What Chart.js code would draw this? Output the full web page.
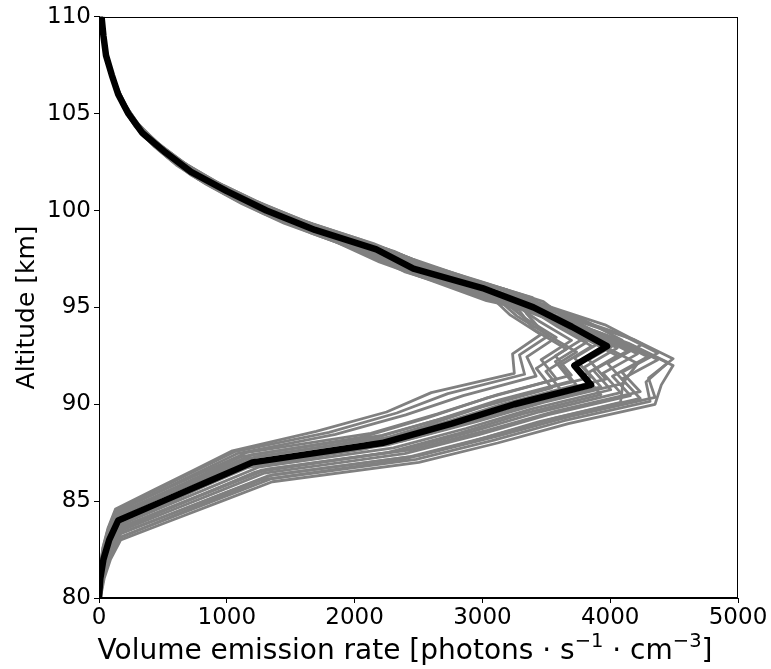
<!DOCTYPE html>
<html>
<head>
<meta charset="utf-8">
<script src="https://cdn.jsdelivr.net/npm/chart.js@4/dist/chart.umd.min.js"></script>
<style>
  html, body { margin: 0; padding: 0; background: #fff; }
</style>
</head>
<body>
<canvas id="chartVER" width="771" height="669"></canvas>
<script>
// Altitude grid (km)
const altitudes = [80,81,82,83,84,85,86,87,88,89,90,91,92,93,94,95,96,97,98,99,100,101,102,103,104,105,106,107,108,109,110];

// Mean (black) profile, photons s-1 cm-3
const meanProfile = [0,10,35,80,150,500,850,1200,2215,2760,3250,3850,3720,3975,3700,3400,3000,2460,2170,1690,1310,1000,720,520,340,230,150,100,55,35,20];

// Ensemble members (grey)
const m01 = [0,9,30,70,130,435,740,1044,1700,2250,2600,3250,3236,3458,3219,3059,2515,2149,1769,1374,1057,782,564,387,258,171,113,69,40,24,12];
const m02 = [0,9,32,72,135,450,765,1080,1850,2400,2850,3420,3348,3578,3330,3140,2895,2447,2052,1595,1229,918,662,461,305,204,133,84,48,29,16];
const m03 = [0,9,33,74,140,465,790,1116,2060,2567,3023,3581,3460,3697,3441,3221,2724,2278,1945,1513,1168,879,634,447,295,198,130,83,47,29,15];
const m04 = [0,10,34,77,144,480,816,1152,2126,2650,3120,3696,3571,3816,3552,3292,2979,2474,2136,1662,1285,972,700,499,328,220,144,94,53,33,19];
const m05 = [0,10,34,78,146,485,825,1164,2149,2677,3153,3735,3608,3856,3589,3349,2910,2386,2105,1639,1271,970,698,504,330,223,146,97,53,34,19];
const m06 = [0,10,36,82,153,510,867,1224,2259,2815,3315,3927,3794,4055,3774,3449,3192,2640,2309,1825,1415,1083,785,567,376,253,166,110,63,39,23];
const m07 = [0,10,36,83,156,520,884,1248,2304,2870,3380,4004,3869,4134,3848,3506,2945,2465,2131,1720,1335,1024,751,542,366,245,162,107,63,38,23];
const m08 = [0,11,37,85,159,530,901,1272,2348,2926,3445,4081,3943,4214,3922,3562,3223,2730,2332,1920,1491,1146,849,612,420,279,186,122,74,44,27];
const m09 = [0,11,38,86,162,540,918,1296,2392,2981,3510,4158,4018,4293,3996,3619,3027,2592,2190,1837,1428,1101,822,592,413,274,182,120,75,43,26];
const m10 = [0,11,39,88,165,550,935,1320,2437,3036,3575,4235,4092,4373,4070,3675,3477,3008,2515,2148,1671,1290,971,700,494,325,218,143,92,52,33];
const m11 = [0,11,39,90,168,560,952,1344,2481,3091,3640,4312,4280,4452,4144,3732,3240,2831,2344,2035,1584,1226,929,669,478,314,211,139,90,50,32];
const m12 = [0,11,40,90,170,565,960,1356,2503,3119,3673,4351,4400,4492,4181,3771,3536,3120,2558,2257,1758,1362,1040,749,541,354,239,156,104,57,36];
const m13 = [0,10,36,82,155,515,876,1236,2281,2843,3348,3966,3832,4094,3811,3391,2696,2254,1925,1497,1156,870,627,443,292,196,128,82,47,29,15];
const m14 = [0,9,33,75,141,470,799,1128,2082,2594,3055,3619,3497,3737,3478,3343,3276,2753,2370,1926,1495,1148,844,609,414,276,183,121,72,43,26];
const m15 = [0,10,34,77,144,480,816,1152,2126,2650,3120,3696,3571,3816,3552,3232,2675,2269,1891,1470,1132,843,608,421,279,186,123,76,44,26,14];
const m16 = [0,9,32,74,138,460,782,1104,2038,2539,2990,3542,3422,3657,3404,3287,2876,2389,2081,1656,1285,984,716,517,345,232,152,102,58,36,21];
const m17 = [0,10,36,82,153,510,867,1224,2259,2815,3315,3927,3794,4055,3774,3509,3392,2894,2454,2046,1590,1224,912,657,456,302,201,133,82,48,30];
const m18 = [0,11,37,85,159,530,901,1272,2348,2926,3445,4081,4100,4214,3922,3637,3226,2828,2334,2037,1586,1228,933,672,482,316,213,139,92,51,33];
const m19 = [0,11,37,86,161,535,910,1284,2370,2953,3478,4120,3980,4253,3959,3499,3064,2528,2207,1718,1330,1011,728,522,342,231,151,100,55,35,20];
const m20 = [0,11,40,90,170,565,960,1356,2503,3119,3673,4351,4300,4492,4181,3718,3032,2614,2194,1862,1448,1118,839,605,425,281,188,124,78,45,28];
const m21 = [0,10,35,80,150,500,850,1200,2215,2760,3250,3850,3720,3975,3700,3320,2840,2391,2018,1569,1210,906,653,457,302,202,133,84,48,30,15];
const m22 = [0,11,39,88,165,550,935,1320,2437,3036,3575,4235,4092,4373,4070,3622,3046,2570,2204,1802,1400,1076,793,572,391,261,173,114,69,41,24];
const m23 = [0,9,31,71,132,442,752,1062,1800,2330,2730,3330,3290,3520,3270,3100,2640,2260,1860,1440,1110,826,596,410,272,181,119,75,43,26,13];
const members = [m01,m02,m03,m04,m05,m06,m07,m08,m09,m10,m11,m12,m13,m14,m15,m16,m17,m18,m19,m20,m21,m22,m23];
// vertical offset of each member's grid (km)
const memberShift = [0.6,0.45,0.3,0.2,0,-0.1,-0.25,-0.4,-0.55,-0.7,-0.85,-1.0,0.3,-0.3,0.5,-0.15,-0.5,-0.9,0.1,-0.65,0.4,-0.35,0.55];

const xTicks = [0,1000,2000,3000,4000,5000];
const yTicks = [80,85,90,95,100,105,110];

const datasets = [{
    data: altitudes.map((a, i) => ({x: meanProfile[i], y: a})),
    borderColor: '#000',
    borderWidth: 6.5,
    order: 0
}];
members.forEach((m, k) => {
    datasets.push({
        data: altitudes.map((a, i) => ({x: m[i], y: a + memberShift[k]})),
        borderColor: '#808080',
        borderWidth: 2.8,
        order: 1
    });
});

const font = "'DejaVu Sans', sans-serif";

// box round the plot + x label with real superscripts
const frame = {
    id: 'frame',
    afterDraw(chart) {
        const {ctx, chartArea: a} = chart;
        ctx.save();
        ctx.strokeStyle = '#000';
        ctx.lineWidth = 1;
        const l = Math.round(a.left) + 0.5, t = Math.round(a.top) + 0.5;
        const r = Math.round(a.right) - 0.5, b = Math.round(a.bottom) - 0.5;
        ctx.strokeRect(l, t, r - l, b - t);

        const parts = [
            ['Volume emission rate [photons \u00b7 s', 28, 0],
            ['\u22121', 19.5, -12],
            [' \u00b7 cm', 28, 0],
            ['\u22123', 19.5, -12],
            [']', 28, 0]
        ];
        let total = 0;
        parts.forEach(p => { ctx.font = p[1] + 'px ' + font; total += ctx.measureText(p[0]).width; });
        let x = 405 - total / 2;
        const base = 659;
        ctx.fillStyle = '#000';
        ctx.textBaseline = 'alphabetic';
        ctx.textAlign = 'left';
        parts.forEach(p => {
            ctx.font = p[1] + 'px ' + font;
            ctx.fillText(p[0], x, base + p[2]);
            x += ctx.measureText(p[0]).width;
        });
        ctx.restore();
    }
};

new Chart(document.getElementById('chartVER').getContext('2d'), {
    type: 'scatter',
    data: { datasets },
    options: {
        responsive: false,
        animation: false,
        showLine: true,
        elements: { point: { radius: 0 }, line: { tension: 0, borderJoinStyle: 'round', borderCapStyle: 'butt' } },
        layout: { padding: { top: 13, right: 33, left: 0, bottom: 0 } },
        plugins: { legend: { display: false }, tooltip: { enabled: false } },
        scales: {
            x: {
                type: 'linear', min: 0, max: 5000,
                afterFit: s => { s.height = 71; },
                afterBuildTicks: s => { s.ticks = xTicks.map(v => ({value: v})); },
                ticks: { color: '#000', font: { family: font, size: 23 }, padding: 1, maxRotation: 0,
                         callback: v => String(v) },
                grid: { drawOnChartArea: false, tickLength: 5, color: '#000' },
                border: { display: true, color: '#000', width: 1 }
            },
            y: {
                type: 'linear', min: 80, max: 110,
                afterFit: s => { s.width = 99; },
                afterBuildTicks: s => { s.ticks = yTicks.map(v => ({value: v})); },
                ticks: { color: '#000', font: { family: font, size: 23 }, padding: 3,
                         callback: v => String(v) },
                grid: { drawOnChartArea: false, tickLength: 5, color: '#000' },
                border: { display: true, color: '#000', width: 1 },
                title: { display: true, text: 'Altitude [km]', color: '#000',
                         font: { family: font, size: 25 }, padding: { top: 12, bottom: 0 } }
            }
        }
    },
    plugins: [frame]
});
</script>
</body>
</html>
